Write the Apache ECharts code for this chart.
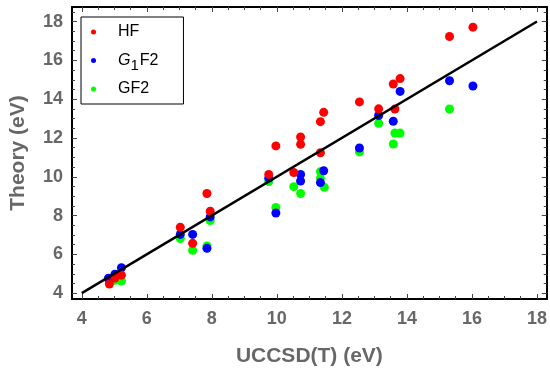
<!DOCTYPE html>
<html><head><meta charset="utf-8">
<script src="https://cdn.jsdelivr.net/npm/echarts@6/dist/echarts.min.js"></script>
<style>html,body{margin:0;padding:0;background:#fff}#c{width:550px;height:372px}</style>
</head><body><div id="c"></div>
<script>
// ---- data ----
const xMajorTicks = [4, 6, 8, 10, 12, 14, 16, 18];
const yMajorTicks = [4, 6, 8, 10, 12, 14, 16, 18];
const xMinorTicks = [4.5, 5, 5.5, 6.5, 7, 7.5, 8.5, 9, 9.5, 10.5, 11, 11.5, 12.5, 13, 13.5, 14.5, 15, 15.5, 16.5, 17, 17.5];
const yMinorTicks = [4.5, 5, 5.5, 6.5, 7, 7.5, 8.5, 9, 9.5, 10.5, 11, 11.5, 12.5, 13, 13.5, 14.5, 15, 15.5, 16.5, 17, 17.5, 18.5];

const hfData = [
  [4.85, 4.47], [5.02, 4.78], [5.22, 4.93], [7.03, 7.40], [7.41, 6.57], [7.85, 9.14], [7.95, 8.22],
  [9.75, 10.12], [9.97, 11.59], [10.52, 10.22], [10.73, 12.05], [10.73, 11.67], [11.34, 12.84],
  [11.34, 11.24], [11.44, 13.32], [12.54, 13.86], [13.13, 13.50], [13.58, 14.78], [13.63, 13.49],
  [13.79, 15.06], [15.31, 17.23], [16.03, 17.71]
];
const g1f2Data = [
  [4.82, 4.77], [5.02, 4.98], [5.22, 5.31], [7.03, 7.03], [7.41, 7.03], [7.85, 6.31], [7.95, 7.93],
  [9.75, 9.93], [9.97, 8.13], [10.73, 10.12], [10.73, 9.78], [11.34, 9.70], [11.44, 10.31],
  [12.54, 11.48], [13.13, 13.16], [13.58, 12.86], [13.79, 14.40], [15.31, 14.95], [16.03, 14.68]
];
const gf2Data = [
  [4.85, 4.62], [5.02, 4.66], [5.22, 4.63], [7.03, 6.82], [7.41, 6.21], [7.85, 6.43], [7.95, 7.74],
  [9.75, 9.75], [9.97, 8.42], [10.52, 9.49], [10.73, 9.14], [11.34, 10.26], [11.34, 9.92],
  [11.46, 9.46], [12.54, 11.28], [13.13, 12.76], [13.58, 11.69], [13.63, 12.25], [13.79, 12.25],
  [15.31, 13.49]
];
const diagonal = [[4, 4], [18, 18]];

// ---- chart ----
const FONT = '"Liberation Sans", Arial, sans-serif';
const GRAY = '#676767';
const TICK = '#444';
const X_MIN = 3.7, X_MAX = 18.3, Y_MIN = 3.7, Y_MAX = 18.75;

function axis(kind, pos, ticks, len, showLine, labels) {
  const a = {
    type: 'value', position: pos,
    min: kind === 'x' ? X_MIN : Y_MIN, max: kind === 'x' ? X_MAX : Y_MAX,
    splitLine: { show: false },
    axisLine: { show: showLine, onZero: false, lineStyle: { color: '#000', width: 2 } },
    axisTick: { show: true, inside: true, length: len, customValues: ticks, lineStyle: { color: TICK, width: 1 } },
    axisLabel: { show: false }
  };
  if (labels) {
    a.axisLabel = {
      show: true, customValues: labels, margin: kind === 'x' ? 11 : 9,
      color: GRAY, fontSize: 18, fontWeight: 'bold', fontFamily: FONT
    };
  }
  return a;
}

const xAxes = [
  axis('x', 'bottom', xMajorTicks, 5, true, xMajorTicks),
  axis('x', 'bottom', xMinorTicks, 3, false, null),
  axis('x', 'top', xMajorTicks, 5, true, null),
  axis('x', 'top', xMinorTicks, 3, false, null)
];
xAxes[0].name = 'UCCSD(T) (eV)';
xAxes[0].nameLocation = 'middle';
xAxes[0].nameGap = 47;
xAxes[0].nameTextStyle = { color: GRAY, fontSize: 21, fontWeight: 'bold', fontFamily: FONT };

const yAxes = [
  axis('y', 'left', yMajorTicks, 5, true, yMajorTicks),
  axis('y', 'left', yMinorTicks, 3, false, null),
  axis('y', 'right', yMajorTicks, 5, true, null),
  axis('y', 'right', yMinorTicks, 3, false, null)
];
yAxes[0].name = 'Theory (eV)';
yAxes[0].nameLocation = 'middle';
yAxes[0].nameRotate = 90;
yAxes[0].nameGap = 43;
yAxes[0].nameTextStyle = { color: GRAY, fontSize: 21, fontWeight: 'bold', fontFamily: FONT };

const chart = echarts.init(document.getElementById('c'), null, { renderer: 'canvas' });
chart.setOption({
  animation: false,
  backgroundColor: '#fff',
  grid: { left: 72, right: 1, top: 7, bottom: 70 },
  xAxis: xAxes,
  yAxis: yAxes,
  legend: {
    data: ['HF', 'G1F2', 'GF2'],
    orient: 'vertical', left: 81, top: 17,
    padding: [6, 25, 6, 10], itemGap: 7,
    itemWidth: 11, itemHeight: 5, icon: 'circle',
    backgroundColor: '#fff', borderColor: '#000', borderWidth: 1, borderRadius: 0,
    formatter: function (name) {
      if (name === 'G1F2') return '{sp|}{i|G}{sub|1}{n|F2}';
      return '{sp|}{n|' + name + '}';
    },
    textStyle: {
      fontFamily: FONT, fontSize: 16, color: '#000', lineHeight: 18,
      rich: {
        sp: { width: 14, lineHeight: 18 },
        n: { fontSize: 16, color: '#000', fontFamily: FONT, lineHeight: 18 },
        i: { fontSize: 16, color: '#000', fontFamily: FONT, fontStyle: 'italic', lineHeight: 18 },
        sub: { fontSize: 15, color: '#000', fontFamily: FONT, lineHeight: 8, padding: [10, 1, 0, 0] }
      }
    }
  },
  series: [
    { name: 'GF2', type: 'scatter', data: gf2Data, symbolSize: 9, itemStyle: { color: '#00ff00', opacity: 1 } },
    { name: 'G1F2', type: 'scatter', data: g1f2Data, symbolSize: 9, itemStyle: { color: '#0000ff', opacity: 1 } },
    { name: 'HF', type: 'scatter', data: hfData, symbolSize: 9, itemStyle: { color: '#ff0000', opacity: 1 } },
    { type: 'line', data: diagonal, symbol: 'none', silent: true, z: 5,
      lineStyle: { color: '#000', width: 2.5 } }
  ]
});
</script></body></html>
